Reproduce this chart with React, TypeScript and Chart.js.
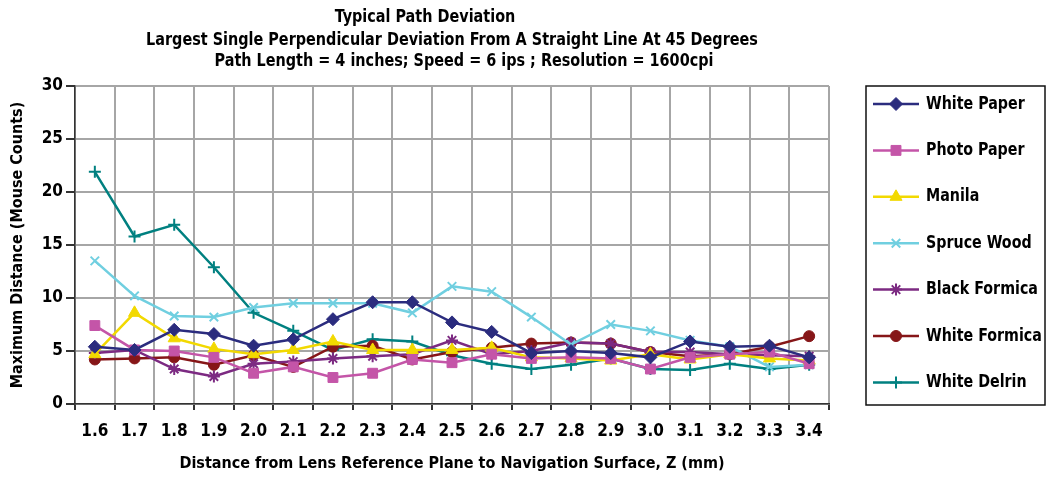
import React, { useEffect, useRef } from "react";
import { Chart, registerables } from "chart.js";
import { drawPoint } from "chart.js/helpers";

Chart.register(...registerables);

const categories = ["1.6", "1.7", "1.8", "1.9", "2.0", "2.1", "2.2", "2.3", "2.4", "2.5", "2.6", "2.7", "2.8", "2.9", "3.0", "3.1", "3.2", "3.3", "3.4"];
const whitePaper = [5.4, 5.1, 7.0, 6.6, 5.5, 6.1, 8.0, 9.6, 9.6, 7.7, 6.8, 4.8, 5.0, 4.8, 4.4, 5.9, 5.4, 5.5, 4.4];
const photoPaper = [7.4, 5.1, 5.0, 4.4, 2.9, 3.5, 2.5, 2.9, 4.2, 3.9, 4.7, 4.3, 4.4, 4.3, 3.3, 4.4, 4.7, 4.9, 3.8];
const manila = [4.7, 8.6, 6.2, 5.2, 4.7, 5.1, 5.9, 5.1, 5.1, 5.1, 5.3, 4.4, 4.3, 4.1, 4.7, 4.2, 4.7, 4.3, 4.1];
const spruceWood = [13.5, 10.2, 8.3, 8.2, 9.1, 9.5, 9.5, 9.5, 8.6, 11.1, 10.6, 8.2, 5.6, 7.5, 6.9, 6.0, 5.4, 3.5, 3.7];
const blackFormica = [4.8, 5.1, 3.3, 2.6, 3.8, 4.0, 4.3, 4.5, 4.7, 6.0, 4.7, 5.0, 5.8, 5.7, 4.9, 4.9, 4.7, 4.6, 4.5];
const whiteFormica = [4.2, 4.3, 4.4, 3.7, 4.6, 3.5, 5.4, 5.5, 4.2, 4.9, 5.3, 5.7, 5.8, 5.7, 4.9, 4.5, 4.7, 5.4, 6.4];
const whiteDelrin = [21.9, 15.8, 16.9, 12.9, 8.6, 6.9, 5.1, 6.1, 5.9, 4.6, 3.8, 3.3, 3.7, 4.3, 3.3, 3.2, 3.8, 3.3, 3.7];

const titleLines = [
  "Typical Path Deviation",
  "Largest Single Perpendicular Deviation From A Straight Line At 45 Degrees",
  "Path Length = 4 inches; Speed = 6 ips ; Resolution = 1600cpi",
];
const xTitle = "Distance from Lens Reference Plane to Navigation Surface, Z (mm)";
const yTitle = "Maximum Distance (Mouse Counts)";

const FONT = "'Liberation Sans Narrow', 'DejaVu Sans Condensed', 'Arial Narrow', sans-serif";

type Series = { label: string; data: number[]; color: string; style: string; radius: number };
const series: Series[] = [
  { label: "White Paper", data: whitePaper, color: "#2b2c7e", style: "rectRot", radius: 6.5 },
  { label: "Photo Paper", data: photoPaper, color: "#c455a8", style: "rect", radius: 7 },
  { label: "Manila", data: manila, color: "#f2d900", style: "triangle", radius: 7 },
  { label: "Spruce Wood", data: spruceWood, color: "#70cfe0", style: "crossRot", radius: 6 },
  { label: "Black Formica", data: blackFormica, color: "#7c2a82", style: "star", radius: 6 },
  { label: "White Formica", data: whiteFormica, color: "#861618", style: "circle", radius: 5.5 },
  { label: "White Delrin", data: whiteDelrin, color: "#008080", style: "cross", radius: 6 },
];

// draw condensed-looking text: taller font, narrowed horizontally
function condensedText(ctx: any, text: string, x: number, y: number, size: number, sx: number, align: string) {
  ctx.save();
  ctx.translate(x, y);
  ctx.scale(sx, 1);
  ctx.font = `bold ${size}px ${FONT}`;
  ctx.textAlign = align;
  ctx.textBaseline = "middle";
  ctx.fillStyle = "#000";
  ctx.fillText(text, 0, 0);
  ctx.restore();
}

const titlePlugin = {
  id: "customTitle",
  afterDraw(chart: any) {
    const ctx = chart.ctx;
    const ys = [17, 40, 61];
    const xs = [425, 452, 464];
    titleLines.forEach((t, i) => condensedText(ctx, t, xs[i], ys[i], 18, 0.89, "center"));
  },
};

const legendPlugin = {
  id: "customLegend",
  afterDraw(chart: any) {
    const ctx = chart.ctx;
    const left = 866;
    const top = 86;
    const right = 1045;
    const bottom = 405;
    ctx.save();
    ctx.strokeStyle = "#111";
    ctx.lineWidth = 1.5;
    ctx.strokeRect(left, top, right - left, bottom - top);
    chart.data.datasets.forEach((ds: any, i: number) => {
      const y = 104 + i * 46.4;
      ctx.strokeStyle = ds.borderColor;
      ctx.lineWidth = 2.5;
      ctx.beginPath();
      ctx.moveTo(873, y);
      ctx.lineTo(919, y);
      ctx.stroke();
      ctx.fillStyle = ds.pointBackgroundColor;
      ctx.strokeStyle = ds.pointBorderColor;
      ctx.lineWidth = ds.pointBorderWidth;
      drawPoint(ctx, { pointStyle: ds.pointStyle, radius: ds.pointRadius, rotation: 0, borderWidth: ds.pointBorderWidth }, 896, y);
      condensedText(ctx, ds.label, 926, y, 18, 0.88, "left");
    });
    ctx.restore();
  },
};

export default function App() {
  const ref = useRef<HTMLCanvasElement>(null);
  useEffect(() => {
    if (!ref.current) return;
    const chart = new Chart(ref.current, {
      type: "line",
      data: {
        labels: categories,
        datasets: series.map((s) => ({
          label: s.label,
          data: s.data,
          borderColor: s.color,
          backgroundColor: s.color,
          pointBackgroundColor: s.color,
          pointBorderColor: s.color,
          pointStyle: s.style as any,
          pointRadius: s.radius,
          pointBorderWidth: ["crossRot", "star", "cross"].includes(s.style) ? 2 : 1,
          borderWidth: 2.5,
          tension: 0,
          fill: false,
        })),
      },
      options: {
        animation: false,
        responsive: false,
        layout: { padding: { top: 86, right: 218, bottom: 0, left: 0 } },
        plugins: {
          legend: { display: false },
          title: { display: false },
          tooltip: { enabled: false },
        },
        scales: {
          x: {
            type: "category",
            offset: true,
            grid: { offset: true, color: "#a6a6a6", lineWidth: 2, tickColor: "#333", tickLength: 6, drawTicks: true },
            border: { color: "#333", width: 1.5 },
            ticks: { color: "#000", font: { family: FONT, size: 17, weight: "bold" }, padding: 11, maxRotation: 0, autoSkip: false },
            title: { display: true, text: xTitle, color: "#000", font: { family: FONT, size: 16, weight: "bold" }, padding: { top: 4, bottom: 5 } },
            afterFit(scale: any) {
              scale.height = 74;
            },
          },
          y: {
            min: 0,
            max: 30,
            ticks: { stepSize: 5, color: "#000", font: { family: FONT, size: 17, weight: "bold" }, padding: 3 },
            grid: { color: "#a6a6a6", lineWidth: 2, tickColor: "#333", tickLength: 9 },
            border: { color: "#333", width: 1.5 },
            title: { display: true, text: yTitle, color: "#000", font: { family: FONT, size: 16, weight: "bold" }, padding: { top: 8, bottom: 4 } },
            afterFit(scale: any) {
              scale.width = 75;
            },
          },
        },
      },
      plugins: [titlePlugin, legendPlugin],
    });
    return () => chart.destroy();
  }, []);
  return (
    <div style={{ position: "absolute", left: 0, top: 0, width: 1047, height: 478, background: "#fff" }}>
      <canvas ref={ref} width={1047} height={478} style={{ width: 1047, height: 478 }} />
    </div>
  );
}
